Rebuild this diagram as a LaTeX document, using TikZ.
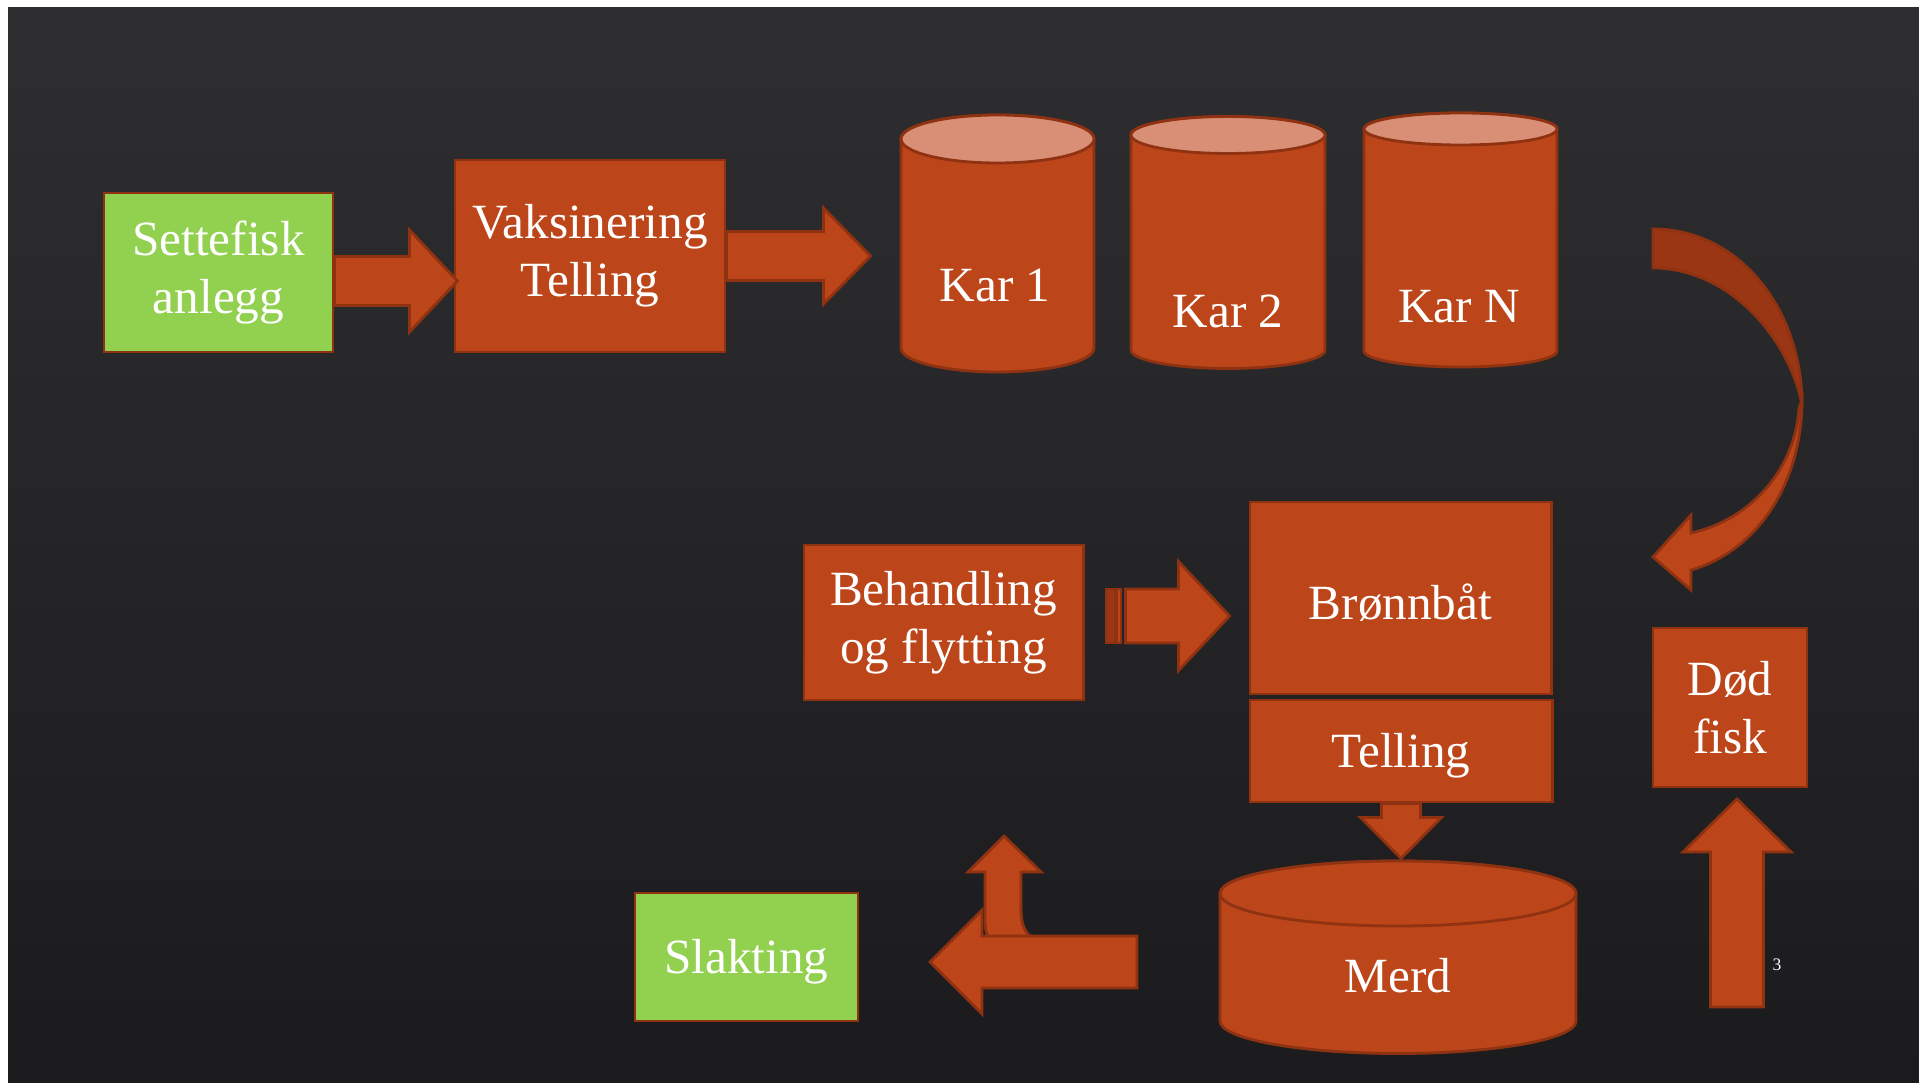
\documentclass[tikz,border=0pt]{standalone}
\usepackage{fontspec}
\setmainfont{Liberation Serif}
\usetikzlibrary{calc}

\definecolor{rust}{HTML}{BC4519}
\definecolor{rustline}{HTML}{8E3212}
\definecolor{rustdark}{HTML}{9A3614}
\definecolor{salmon}{HTML}{D98F76}
\definecolor{leaf}{HTML}{92D050}
\definecolor{bgtop}{HTML}{2E2E30}
\definecolor{bgbot}{HTML}{1B1B1D}

% fat block arrow: start, angle, length, shaft half width, head half width, head length
\newcommand{\fatarrow}[6]{%
  \path[fatarrow,shift={#1},rotate=#2] (0,-#4) -- (#3-#6,-#4) -- (#3-#6,-#5) -- (#3,0)
    -- (#3-#6,#5) -- (#3-#6,#4) -- (0,#4) -- cycle;}

% tank: left x, right x, top y, ellipse ry, bottom y, top fill
\newcommand{\tank}[6]{%
  \path[tankbody] (#1,#5) arc (180:0:{(#2-#1)/2} and #4) -- (#2,#3) arc (0:-180:{(#2-#1)/2} and #4) -- cycle;
  \path[tankbody,fill=#6] ({(#1+#2)/2},#3) ellipse ({(#2-#1)/2} and #4);}

\begin{document}
\begin{tikzpicture}[x=0.01cm,y=-0.01cm]
                \tikzstyle{box}=[rectangle, draw=rustline, fill=rust, line width=0.8pt, text=white, align=center, inner sep=0pt,
                    font=\fontsize{14}{16.5}\selectfont, execute at begin node={\rule{0pt}{12.6pt}}]
                \tikzstyle{green box}=[box, fill=leaf]
                \tikzstyle{lbl}=[text=white, anchor=base, inner sep=0pt, font=\fontsize{14}{16}\selectfont]
                \tikzstyle{fatarrow}=[fill=rust, draw=rustline, line width=0.8pt, line join=miter]
                \tikzstyle{tankbody}=[fill=rust, draw=rustline, line width=0.8pt]

                \useasboundingbox (0,0) rectangle (1919,1083);
                \fill[white] (0,0) rectangle (1919,1083);
                \shade[top color=bgtop, bottom color=bgbot] (8,8) rectangle (1919,1083);

                % boxes
                \node[green box, minimum width=2.29cm, minimum height=1.59cm] (sf) at (218.5,272.5) {Settefisk\\anlegg};
                \node[box, minimum width=2.70cm, minimum height=1.92cm] (vt) at (590,256) {Vaksinering\\Telling};
                \node[box, minimum width=2.79cm, minimum height=1.55cm] (bh) at (943.5,622.5) {Behandling\\og flytting};
                \node[box, minimum width=3.01cm, minimum height=1.92cm] (bb) at (1400.5,598) {Brønnbåt};
                \node[box, minimum width=3.02cm, minimum height=1.02cm] (tel) at (1401,751) {Telling};
                \node[green box, minimum width=2.23cm, minimum height=1.28cm] (sl) at (746.5,957) {Slakting};
                \node[box, minimum width=1.54cm, minimum height=1.59cm, execute at begin node={}] (df) at (1730,707.5) {Død\\fisk};

                % tanks
                \foreach \xa/\xb/\yt/\ry/\yb/\tx/\ty/\nm/\txt in {901/1094/139/24/348/995/302/kar1/Kar 1,
                    1131/1325/135/18.5/350/1228/328/kar2/Kar 2, 1364/1557/129/16/351/1459/323/karn/Kar N}
                {
                    \tank{\xa}{\xb}{\yt}{\ry}{\yb}{salmon}
                    \node[lbl] (\nm) at (\tx,\ty) {\txt};
                }
                \tank{1220}{1576}{893.5}{32.5}{1021}{rust}
                \node[lbl] (merd) at (1398,992) {Merd};

                % arrows
                \fatarrow{($(sf.east)+(0,8.5)$)}{0}{123}{24.5}{51}{48}
                \fatarrow{(vt.east)}{0}{144}{24.5}{48}{47}
                \path[fatarrow, fill=rustdark] (1106,589) rectangle (1115,643);
                \path[fatarrow] (1117,589) rectangle (1121,643);
                \fatarrow{($(bh.east)+(41,-6.5)$)}{0}{104}{27}{54.5}{51}
                \fatarrow{(tel.south)}{-90}{55}{19.5}{40.5}{41}

                \coordinate (ret) at (1137,962);
                \path[fatarrow] (1032,938) .. controls (1022,930) and (1021,920) .. (1021,905) -- (1021,872) -- (1041,872) -- (1004,836)
                    -- (968,872) -- (985,872) -- (985,920) .. controls (985,930) and (987,936) .. (989,938) -- cycle;
                \fatarrow{(ret)}{180}{207}{26}{52}{52}

                \coordinate (up) at (1737,1007);
                \fatarrow{(up)}{90}{208}{26.5}{54}{53}

                % curved arrow from the tanks down to the boat
                \path[fatarrow] (1802,400) .. controls (1802,480) and (1760,550) .. (1691,570) -- (1691,590) -- (1653,557)
                    -- (1691,515) -- (1691,533) .. controls (1750,520) and (1795,470) .. (1799,408) -- cycle;
                \path[fatarrow, fill=rustdark] (1653,229) .. controls (1740,229) and (1802,310) .. (1802,405)
                    .. controls (1790,340) and (1730,268) .. (1653,268) -- cycle;

                \node[text=white, inner sep=0pt, font=\fontsize{5}{6}\selectfont] (pg) at (1777,965) {3};
            \end{tikzpicture}
\end{document}
